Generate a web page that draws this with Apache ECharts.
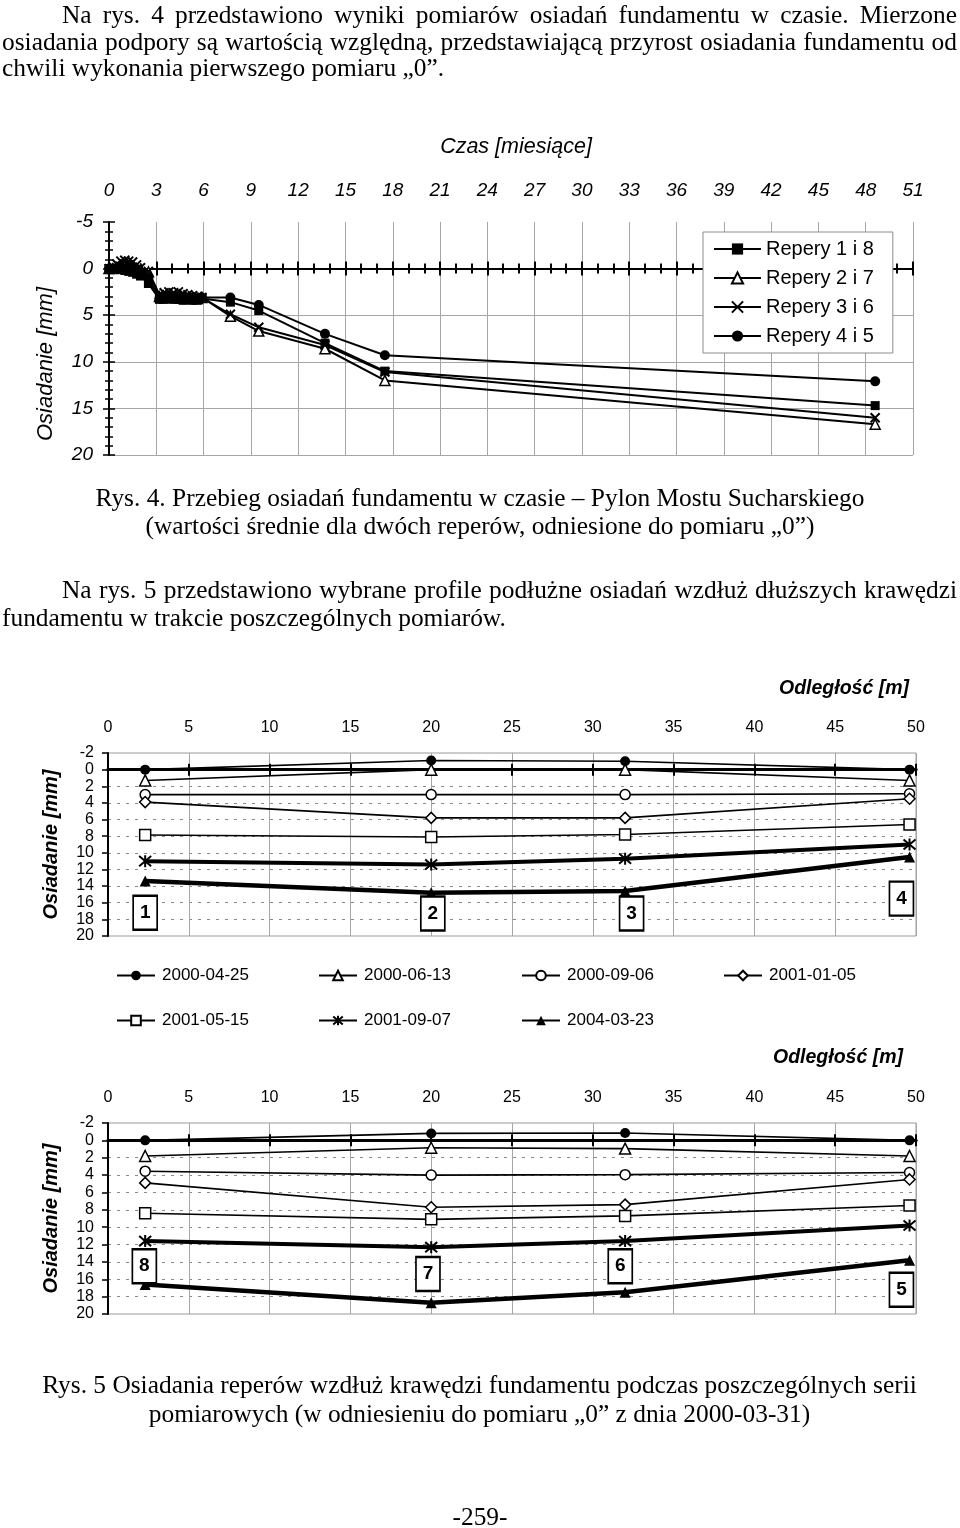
<!DOCTYPE html>
<html><head><meta charset="utf-8">
<script src="https://cdn.jsdelivr.net/npm/echarts@6/dist/echarts.min.js"></script>
<style>
html,body{margin:0;padding:0;background:#fff;}
#wrap{position:relative;width:960px;height:1528px;overflow:hidden;background:#fff;}
#chart{position:absolute;left:0;top:0;width:960px;height:1528px;}
.t{position:absolute;font-family:"Liberation Serif","Times New Roman",serif;font-size:25.4px;line-height:27px;color:#000;white-space:nowrap;}
.j{text-align:justify;text-align-last:justify;white-space:normal;}
.c{text-align:center;}
</style></head>
<body><div id="wrap"><div id="chart"></div>
<div class="t j" style="left:62px;top:1px;width:895px">Na rys. 4 przedstawiono wyniki pomiarów osiadań fundamentu w czasie. Mierzone</div>
<div class="t j" style="left:2px;top:28px;width:955px">osiadania podpory są wartością względną, przedstawiającą przyrost osiadania fundamentu od</div>
<div class="t" style="left:2px;top:54px">chwili wykonania pierwszego pomiaru „0”.</div>
<div class="t c" style="left:0px;top:484px;width:960px">Rys. 4. Przebieg osiadań fundamentu w czasie – Pylon Mostu Sucharskiego</div>
<div class="t c" style="left:0px;top:512px;width:960px">(wartości średnie dla dwóch reperów, odniesione do pomiaru „0”)</div>
<div class="t j" style="left:62px;top:576px;width:895px">Na rys. 5 przedstawiono wybrane profile podłużne osiadań wzdłuż dłuższych krawędzi</div>
<div class="t" style="left:2px;top:604px">fundamentu w trakcie poszczególnych pomiarów.</div>
<div class="t c" style="left:0px;top:1371px;width:959px">Rys. 5 Osiadania reperów wzdłuż krawędzi fundamentu podczas poszczególnych serii</div>
<div class="t c" style="left:0px;top:1400px;width:959px">pomiarowych (w odniesieniu do pomiaru „0” z dnia 2000-03-31)</div>
<div class="t c" style="left:0px;top:1503px;width:960px">-259-</div>
</div>
<script>
// ---------- Rys. 4 data (time in months, settlement in mm) ----------
const months = [0,0.25,0.5,0.75,1.0,1.25,1.5,1.75,2.0,2.5,3.2,3.5,3.8,4.1,4.4,4.7,5.0,5.3,5.6,5.9,7.7,9.5,13.7,17.5,48.6];
const repery18 = [0,0,0,0.1,0.2,0.3,0.4,0.6,0.8,1.6,3.3,3.3,3.2,3.3,3.3,3.4,3.3,3.4,3.4,3.2,3.6,4.5,8.0,11.0,14.7];
const repery27 = [0,0,-0.1,-0.2,-0.3,-0.2,-0.1,0,0.1,0.35,3.0,3.1,3.0,3.1,3.0,3.1,3.2,3.1,3.2,3.1,5.1,6.7,8.6,12.0,16.7];
const repery36 = [0,-0.2,-0.5,-0.8,-0.9,-0.8,-0.7,-0.4,-0.1,0.3,2.8,2.6,2.5,2.6,2.5,2.7,2.8,2.9,3.0,3.1,4.9,6.3,8.2,11.1,16.0];
const repery45 = [0,0,0,-0.1,0,0.1,0.1,0.2,0.4,1.0,3.2,3.2,3.1,3.2,3.2,3.3,3.3,3.3,3.2,3.1,3.1,3.9,7.0,9.3,12.1];
const topNames = ['Repery 1 i 8','Repery 2 i 7','Repery 3 i 6','Repery 4 i 5'];
const monthTicks = [0,51,3];
const topSettleTicks = [-5,20,5];

// ---------- Rys. 5 data (distance in m, settlement in mm) ----------
const distances = [2.3, 20, 32, 49.6];
const dates = ['2000-04-25','2000-06-13','2000-09-06','2001-01-05','2001-05-15','2001-09-07','2004-03-23'];
// edge with benchmarks 1-4
const edgeA_20000425 = [0,-1.1,-1.0,0];
const edgeA_20000613 = [1.3,0,0,1.3];
const edgeA_20000906 = [3.0,3.0,3.0,2.9];
const edgeA_20010105 = [3.9,5.8,5.8,3.5];
const edgeA_20010515 = [7.85,8.1,7.8,6.6];
const edgeA_20010907 = [11.0,11.4,10.7,9.0];
const edgeA_20040323 = [13.4,14.8,14.6,10.5];
// edge with benchmarks 8-5
const edgeB_20000425 = [0,-0.8,-0.85,0];
const edgeB_20000613 = [1.8,0.85,0.95,1.8];
const edgeB_20000906 = [3.55,4.0,3.95,3.7];
const edgeB_20010105 = [4.9,7.7,7.4,4.5];
const edgeB_20010515 = [8.4,9.1,8.7,7.5];
const edgeB_20010907 = [11.6,12.3,11.6,9.8];
const edgeB_20040323 = [16.6,18.7,17.5,13.8];
// benchmark number boxes (annotation anchors in data units)
const edgeA_boxX = [2.3,20.1,32.4,49.1];
const edgeA_boxY = [17.2,17.3,17.3,15.5];
const edgeA_boxNo = [1,2,3,4];
const edgeB_boxX = [2.25,19.8,31.7,49.1];
const edgeB_boxY = [14.5,15.4,14.5,17.2];
const edgeB_boxNo = [8,7,6,5];
const distTicks = [0,50,5];
const profSettleTicks = [-2,20,2];

const FONT = '"Liberation Sans", Arial, Helvetica, sans-serif';
const BLACK = '#000';
const GRIDC = '#a6a6a6';

const starPath = 'path://M5,0L5,10M0.8,0.8L9.2,9.2M0.8,9.2L9.2,0.8';
const crossPath = 'path://M0,0L10,10M0,10L10,0';

const zip = (xs, ys) => xs.map((x, i) => [x, ys[i]]);

function xLabelAxis(gi, t, label, margin, splitStyle) {
  return {type:'value', gridIndex:gi, position:'top', min:t[0], max:t[1], interval:t[2],
    axisLine:{show:false, onZero:false}, axisTick:{show:false},
    axisLabel:Object.assign({color:BLACK, fontFamily:FONT, margin:margin}, label),
    splitLine:{show:true, lineStyle:splitStyle}};
}
function xZeroAxis(gi, t, inside, lineW, tickLen, minor, yIdx) {
  return {type:'value', gridIndex:gi, position:'bottom', min:t[0], max:t[1], interval:t[2],
    axisLine:{show:true, onZero:true, onZeroAxisIndex:yIdx, lineStyle:{color:BLACK, width:lineW}},
    axisTick:{show:true, inside:inside, length:tickLen, lineStyle:{color:BLACK, width:2}},
    minorTick: minor ? {show:true, splitNumber:minor, length:tickLen-2, lineStyle:{color:BLACK, width:2}} : {show:false},
    axisLabel:{show:false}, splitLine:{show:false}};
}

const xAxes = [
  xLabelAxis(0, monthTicks, {fontStyle:'italic', fontSize:19}, 22, {color:GRIDC, width:1}),
  xZeroAxis(0, monthTicks, false, 2, 7, 3, 0),
  xZeroAxis(0, monthTicks, true, 2, 7, 3, 1),
  xLabelAxis(1, distTicks, {fontSize:16}, 17, {color:GRIDC, width:1}),
  xZeroAxis(1, distTicks, false, 3, 6, 0, 2),
  xZeroAxis(1, distTicks, true, 3, 6, 0, 3),
  xLabelAxis(2, distTicks, {fontSize:16}, 17, {color:GRIDC, width:1}),
  xZeroAxis(2, distTicks, false, 3, 6, 0, 4),
  xZeroAxis(2, distTicks, true, 3, 6, 0, 5)
];

function yMain(gi, t, label, name, nameStyle, nameGap, split, minor) {
  return {type:'value', gridIndex:gi, position:'left', inverse:true, min:t[0], max:t[1], interval:t[2],
    axisLine:{show:true, onZero:false, lineStyle:{color:BLACK, width:2}},
    axisTick:{show:true, length:6, lineStyle:{color:BLACK, width:1.5}},
    minorTick: minor ? {show:true, splitNumber:minor, length:4, lineStyle:{color:BLACK, width:1.5}} : {show:false},
    axisLabel:Object.assign({color:BLACK, fontFamily:FONT}, label),
    splitLine:split,
    name:name, nameLocation:'middle', nameGap:nameGap,
    nameTextStyle:Object.assign({color:BLACK, fontFamily:FONT}, nameStyle)};
}
function yDup(gi, t, tickLen, minor) {
  return {type:'value', gridIndex:gi, position:'left', inverse:true, min:t[0], max:t[1], interval:t[2],
    axisLine:{show:false, onZero:false},
    axisTick:{show:tickLen>0, inside:true, length:tickLen, lineStyle:{color:BLACK, width:1.5}},
    minorTick: minor ? {show:true, splitNumber:minor, length:4, lineStyle:{color:BLACK, width:1.5}} : {show:false},
    axisLabel:{show:false}, splitLine:{show:false}};
}

const yAxes = [
  yMain(0, topSettleTicks, {fontStyle:'italic', fontSize:19, margin:16}, '', {}, 0,
        {show:true, showMinLine:false, lineStyle:{color:GRIDC, width:1}}, 5),
  yDup(0, topSettleTicks, 6, 5),
  yMain(1, profSettleTicks, {fontSize:16, margin:14}, 'Osiadanie [mm]', {fontStyle:'italic', fontWeight:'bold', fontSize:20}, 47,
        {show:true, showMinLine:false, showMaxLine:false, lineStyle:{color:'#8a8a8a', width:1, type:[3,6]}}, 0),
  yDup(1, profSettleTicks, 0, 0),
  yMain(2, profSettleTicks, {fontSize:16, margin:14}, 'Osiadanie [mm]', {fontStyle:'italic', fontWeight:'bold', fontSize:20}, 47,
        {show:true, showMinLine:false, showMaxLine:false, lineStyle:{color:'#8a8a8a', width:1, type:[3,6]}}, 0),
  yDup(2, profSettleTicks, 0, 0)
];

// ---------- series ----------
const topStyles = [
  {symbol:'rect', size:9, fill:BLACK, bw:0},
  {symbol:'triangle', size:10, fill:'#fff', bw:1.5},
  {symbol:crossPath, size:9, fill:BLACK, bw:2},
  {symbol:'circle', size:10, fill:BLACK, bw:0}
];
const topData = [repery18, repery27, repery36, repery45];
const series = [];
topData.forEach((vals, i) => {
  const st = topStyles[i];
  series.push({type:'line', name:topNames[i], xAxisIndex:0, yAxisIndex:0, data:zip(months, vals),
    symbol:st.symbol, symbolSize:st.size, showAllSymbol:true, color:BLACK,
    lineStyle:{color:BLACK, width:2}, itemStyle:{color:st.fill, borderColor:BLACK, borderWidth:st.bw},
    emphasis:{disabled:true}, z:3});
});

const profStyles = [
  {symbol:'circle', size:10, fill:BLACK, bw:0, lw:1.6},
  {symbol:'triangle', size:11, fill:'#fff', bw:1.5, lw:1.6},
  {symbol:'circle', size:10, fill:'#fff', bw:1.5, lw:1.6},
  {symbol:'diamond', size:11, fill:'#fff', bw:1.5, lw:1.6},
  {symbol:'rect', size:11, fill:'#fff', bw:1.5, lw:1.6},
  {symbol:starPath, size:12, fill:BLACK, bw:2, lw:4},
  {symbol:'triangle', size:11, fill:BLACK, bw:0, lw:4.5}
];
const edgeA = [edgeA_20000425, edgeA_20000613, edgeA_20000906, edgeA_20010105, edgeA_20010515, edgeA_20010907, edgeA_20040323];
const edgeB = [edgeB_20000425, edgeB_20000613, edgeB_20000906, edgeB_20010105, edgeB_20010515, edgeB_20010907, edgeB_20040323];
[[edgeA, 3, 2], [edgeB, 6, 4]].forEach(([set, xi, yi]) => {
  set.forEach((vals, i) => {
    const st = profStyles[i];
    series.push({type:'line', name:dates[i], xAxisIndex:xi, yAxisIndex:yi, data:zip(distances, vals),
      symbol:st.symbol, symbolSize:st.size, showAllSymbol:true, color:BLACK,
      lineStyle:{color:BLACK, width:st.lw}, itemStyle:{color:st.fill, borderColor:BLACK, borderWidth:st.bw},
      emphasis:{disabled:true}, z:3});
  });
});
[[edgeA_boxX, edgeA_boxY, edgeA_boxNo, 3, 2], [edgeB_boxX, edgeB_boxY, edgeB_boxNo, 6, 4]].forEach(([bx, by, bn, xi, yi]) => {
  series.push({type:'scatter', name:'boxes', xAxisIndex:xi, yAxisIndex:yi,
    data:bx.map((x, i) => [x, by[i], bn[i]]), symbol:'rect', symbolSize:[24,34],
    itemStyle:{color:'#fff', borderColor:BLACK, borderWidth:2, opacity:1},
    label:{show:true, position:'inside', formatter:p => String(p.value[2]), color:BLACK, fontSize:19, fontWeight:'bold', fontFamily:FONT},
    silent:true, emphasis:{disabled:true}, z:6});
});

// ---------- legends ----------
const legends = [{
  data:topNames, orient:'vertical', left:703, top:232, padding:[7,19,7,10],
  itemWidth:47, itemHeight:14, itemGap:9, backgroundColor:'#fff', borderColor:'#8c8c8c', borderWidth:1,
  textStyle:{fontSize:20, fontFamily:FONT, color:BLACK}, selectedMode:false, z:10
}];
const legX = [116, 318, 521, 723, 116, 318, 521];
const legY = [967, 967, 967, 967, 1012, 1012, 1012];
dates.forEach((d, i) => {
  legends.push({data:[d], left:legX[i], top:legY[i], padding:0, itemWidth:38, itemHeight:12,
    textStyle:{fontSize:17, fontFamily:FONT, color:BLACK, lineHeight:17, padding:[0,0,0,2]}, selectedMode:false});
});

const option = {
  animation:false,
  backgroundColor:'#fff',
  grid:[
    {left:109, top:222, width:804, height:233},
    {left:108, top:753, width:808, height:183, show:true, borderColor:'#9a9a9a', borderWidth:1, backgroundColor:'transparent'},
    {left:108, top:1123, width:808, height:191, show:true, borderColor:'#9a9a9a', borderWidth:1, backgroundColor:'transparent'}
  ],
  xAxis:xAxes,
  yAxis:yAxes,
  legend:legends,
  graphic:[
    {type:'text', x:516, y:147, style:{text:'Czas [miesiące]', font:'italic 21.5px ' + FONT, fill:BLACK, align:'center', verticalAlign:'middle'}},
    {type:'text', x:46, y:364, rotation:Math.PI/2, style:{text:'Osiadanie [mm]', font:'italic 22px ' + FONT, fill:BLACK, align:'center', verticalAlign:'middle'}},
    {type:'text', x:909, y:689, style:{text:'Odległość [m]', font:'italic bold 19.5px ' + FONT, fill:BLACK, align:'right', verticalAlign:'middle'}},
    {type:'text', x:903, y:1058, style:{text:'Odległość [m]', font:'italic bold 19.5px ' + FONT, fill:BLACK, align:'right', verticalAlign:'middle'}}
  ],
  series:series
};
const chart = echarts.init(document.getElementById('chart'), null, {renderer:'canvas'});
chart.setOption(option);
</script>
</body></html>
